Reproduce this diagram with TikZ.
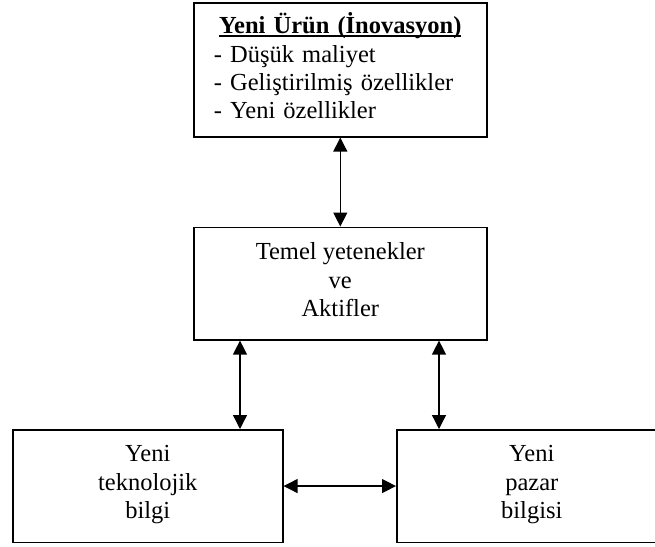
\documentclass[tikz,border=0pt]{standalone}
\usepackage{fontspec}
\setmainfont{Liberation Serif}
\usetikzlibrary{arrows.meta}
% bold heading with a low, tight underline
\newsavebox\headbox
\newcommand\ulhead[1]{\sbox\headbox{\textbf{#1}}\usebox\headbox\llap{\rule[-3pt]{\wd\headbox}{1.5pt}}}
% reserves descender room below the last line of a box
\newcommand\lowstrut{\rule[-8pt]{0pt}{8pt}}

\begin{document}
\begin{tikzpicture}[x=1pt,y=-1pt,
  box/.style={draw, line width=1.6pt, rectangle, anchor=north west, inner sep=0pt,
    align=center, font=\fontsize{24.5}{28.3}\selectfont},
  link/.style={line width=1.3pt,
    {Triangle[length=14pt,width=14pt]}-{Triangle[length=14pt,width=14pt]}}]
\useasboundingbox (0,0) rectangle (655,546);

% boxes
\node[box, minimum width=293pt, minimum height=134pt, text width=253pt, align=left] (prod) at (193,2)
  {\makebox[253pt][c]{\ulhead{Yeni Ürün (İnovasyon)}}\\
   - Düşük maliyet\\
   - Geliştirilmiş özellikler\\
   - Yeni özellikler\lowstrut};
\node[box, minimum width=293pt, minimum height=112.5pt] (core) at (193,226.5)
  {Temel yetenekler\\ve\\Aktifler\lowstrut};
\node[box, minimum width=270pt, minimum height=112.5pt] (tech) at (12,429)
  {Yeni\\teknolojik\\bilgi\lowstrut};
\node[box, minimum width=270pt, minimum height=112.5pt] (market) at (396,429)
  {Yeni\\pazar\\bilgisi\lowstrut};

% two-way links
\draw[link] (prod.south) -- (core.north);
\draw[link] (core.south -| 240,0) -- (tech.north -| 240,0);
\draw[link] (core.south -| 439,0) -- (market.north -| 439,0);
\draw[link] (tech.east) -- (market.west);
\end{tikzpicture}
\end{document}
